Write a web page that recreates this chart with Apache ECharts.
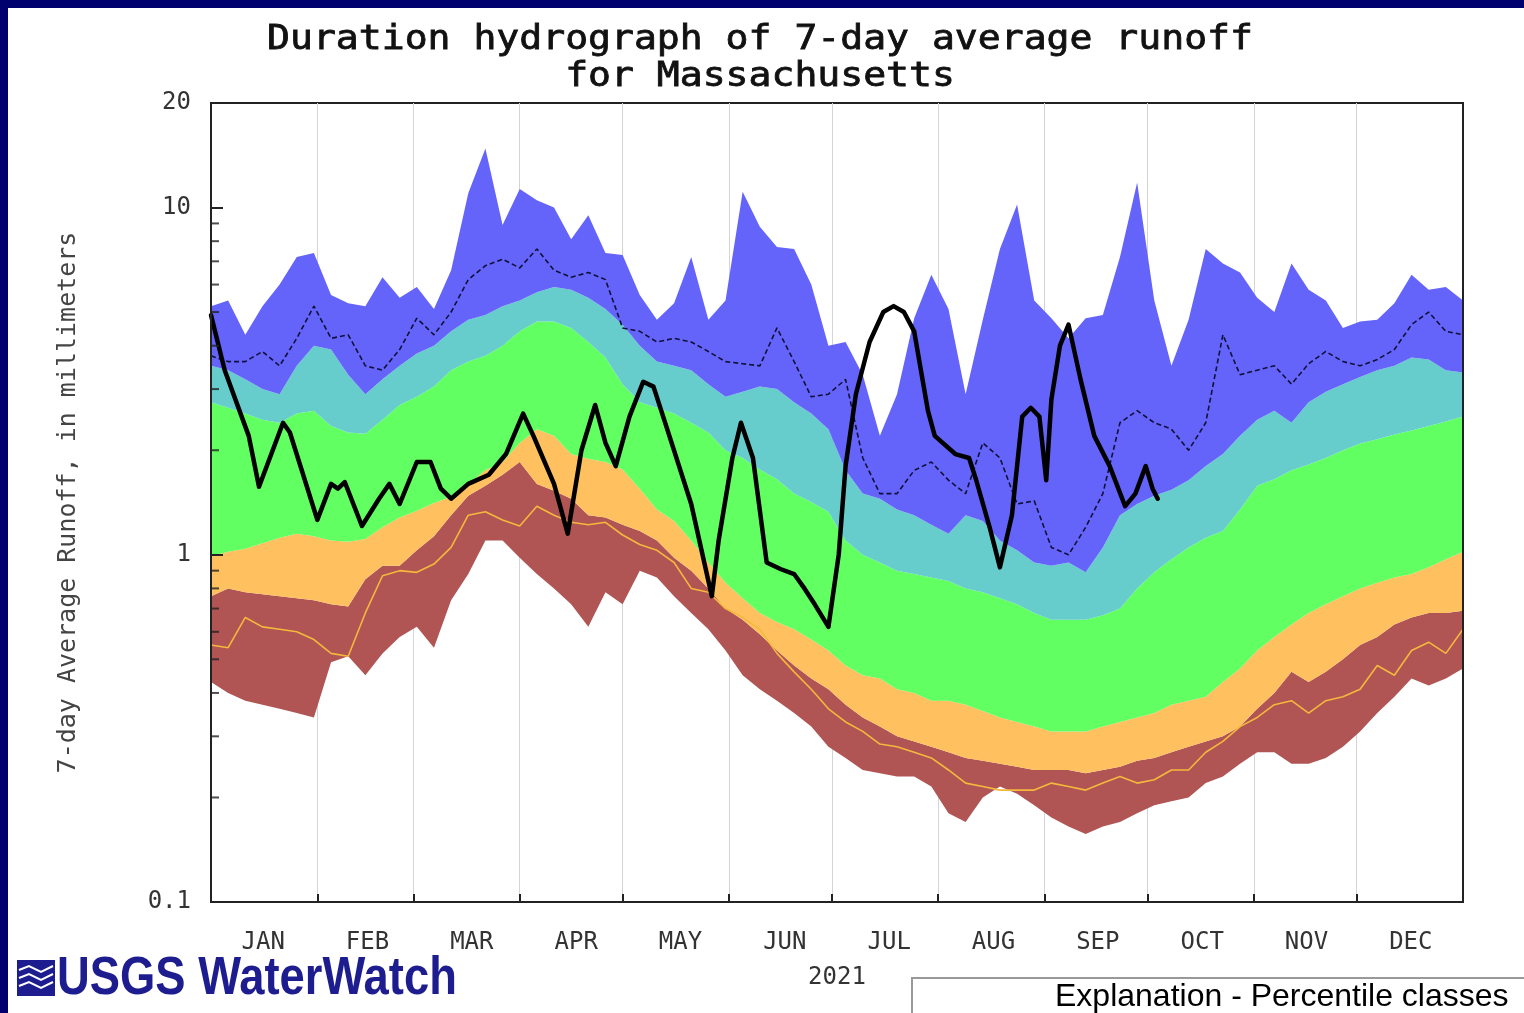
<!DOCTYPE html>
<html>
<head>
<meta charset="utf-8">
<title>Duration hydrograph of 7-day average runoff for Massachusetts</title>
<script src="https://cdn.jsdelivr.net/npm/echarts@6/dist/echarts.min.js"></script>
<style>
  html, body { margin: 0; padding: 0; background: #00006e; overflow: hidden; }
  #chart { position: absolute; left: 8px; top: 8px; width: 1516px; height: 1005px; background: #fff; }
</style>
</head>
<body>
<div id="chart"></div>
<script>
// month labels under the plot
const MONTHS = ['JAN', 'FEB', 'MAR', 'APR', 'MAY', 'JUN', 'JUL', 'AUG', 'SEP', 'OCT', 'NOV', 'DEC']
// y tick values drawn as short inner marks (2..9 of each decade)
const MINOR_TICKS = [0.2, 0.3, 0.4, 0.5, 0.6, 0.7, 0.8, 0.9, 2, 3, 4, 5, 6, 7, 8, 9]

// day of year for the percentile curves (every 5 days)
const DAY = [0, 5, 10, 15, 20, 25, 30, 35, 40, 45,
    50, 55, 60, 65, 70, 75, 80, 85, 90, 95,
    100, 105, 110, 115, 120, 125, 130, 135, 140, 145,
    150, 155, 160, 165, 170, 175, 180, 185, 190, 195,
    200, 205, 210, 215, 220, 225, 230, 235, 240, 245,
    250, 255, 260, 265, 270, 275, 280, 285, 290, 295,
    300, 305, 310, 315, 320, 325, 330, 335, 340, 345,
    350, 355, 360, 365]

// percentile class boundaries, mm
const MAX = [5.2, 5.4, 4.3, 5.2, 6.0, 7.2, 7.4, 5.6, 5.3, 5.2,
    6.3, 5.5, 5.9, 5.1, 6.6, 11.0, 14.8, 8.9, 11.3, 10.5,
    10.0, 8.1, 9.5, 7.4, 7.3, 5.6, 4.75, 5.3, 7.2, 4.75,
    5.4, 11.1, 8.8, 7.7, 7.6, 6.0, 4.0, 4.1, 3.3, 2.2,
    2.9, 4.8, 6.4, 5.1, 2.9, 4.75, 7.6, 10.2, 5.4, 4.8,
    4.2, 4.8, 4.9, 7.2, 11.8, 5.4, 3.5, 4.75, 7.6, 6.9,
    6.5, 5.5, 5.0, 6.9, 5.8, 5.4, 4.5, 4.7, 4.75, 5.3,
    6.4, 5.8, 5.9, 5.4]
const P90 = [3.5, 3.4, 3.2, 3.0, 2.9, 3.5, 4.0, 3.9, 3.3, 2.9,
    3.2, 3.5, 3.8, 4.0, 4.4, 4.75, 4.9, 5.2, 5.4, 5.7,
    5.9, 5.8, 5.5, 5.1, 4.6, 4.0, 3.6, 3.5, 3.4, 3.1,
    2.85, 2.95, 3.05, 3.0, 2.75, 2.55, 2.3, 1.75, 1.5, 1.45,
    1.35, 1.3, 1.22, 1.15, 1.3, 1.25, 1.1, 1.03, 0.95, 0.93,
    0.95, 0.89, 1.05, 1.3, 1.4, 1.48, 1.54, 1.64, 1.8, 1.95,
    2.2, 2.45, 2.6, 2.4, 2.75, 2.95, 3.1, 3.25, 3.4, 3.5,
    3.7, 3.65, 3.4, 3.35]
const P75 = [2.75, 2.65, 2.55, 2.45, 2.4, 2.55, 2.6, 2.35, 2.25, 2.23,
    2.45, 2.7, 2.85, 3.05, 3.4, 3.6, 3.74, 4.0, 4.4, 4.7,
    4.7, 4.5, 4.1, 3.7, 3.1, 2.75, 2.65, 2.55, 2.4, 2.25,
    2.0, 1.9, 1.76, 1.65, 1.5, 1.42, 1.33, 1.1, 1.0, 0.95,
    0.9, 0.88, 0.86, 0.84, 0.8, 0.78, 0.75, 0.72, 0.68, 0.65,
    0.65, 0.65, 0.67, 0.7, 0.8, 0.89, 0.97, 1.05, 1.12, 1.17,
    1.35, 1.58, 1.65, 1.75, 1.82, 1.9, 2.0, 2.09, 2.15, 2.22,
    2.28, 2.35, 2.42, 2.5]
const P25 = [0.99, 1.02, 1.04, 1.08, 1.12, 1.15, 1.13, 1.1, 1.09, 1.11,
    1.2, 1.28, 1.34, 1.41, 1.47, 1.6, 1.75, 1.85, 2.1, 2.3,
    2.2, 1.95, 1.89, 1.85, 1.76, 1.55, 1.35, 1.25, 1.1, 0.95,
    0.83, 0.75, 0.68, 0.64, 0.61, 0.57, 0.53, 0.48, 0.45, 0.44,
    0.41, 0.4, 0.38, 0.38, 0.37, 0.355, 0.34, 0.33, 0.32, 0.31,
    0.31, 0.31, 0.32, 0.33, 0.34, 0.35, 0.37, 0.38, 0.39, 0.43,
    0.47, 0.53, 0.58, 0.63, 0.68, 0.72, 0.76, 0.8, 0.83, 0.86,
    0.88, 0.92, 0.97, 1.02]
const P10 = [0.76, 0.8, 0.78, 0.77, 0.76, 0.75, 0.74, 0.72, 0.71, 0.85,
    0.93, 0.93, 1.03, 1.13, 1.3, 1.48, 1.58, 1.7, 1.85, 1.6,
    1.53, 1.45, 1.3, 1.28, 1.22, 1.17, 1.1, 0.98, 0.9, 0.8,
    0.7, 0.65, 0.59, 0.53, 0.48, 0.44, 0.41, 0.37, 0.34, 0.32,
    0.3, 0.29, 0.28, 0.27, 0.26, 0.255, 0.25, 0.245, 0.24, 0.24,
    0.24, 0.235, 0.24, 0.245, 0.255, 0.26, 0.27, 0.28, 0.29, 0.3,
    0.32, 0.36, 0.4, 0.46, 0.43, 0.46, 0.5, 0.55, 0.58, 0.63,
    0.66, 0.68, 0.68, 0.69]
const MIN = [0.43, 0.4, 0.38, 0.37, 0.36, 0.35, 0.34, 0.49, 0.51, 0.45,
    0.52, 0.58, 0.62, 0.54, 0.74, 0.88, 1.1, 1.1, 0.98, 0.88,
    0.8, 0.72, 0.62, 0.78, 0.72, 0.9, 0.86, 0.76, 0.68, 0.61,
    0.53, 0.45, 0.41, 0.38, 0.35, 0.32, 0.28, 0.26, 0.24, 0.235,
    0.23, 0.23, 0.215, 0.18, 0.17, 0.2, 0.215, 0.205, 0.19, 0.175,
    0.165, 0.157, 0.165, 0.17, 0.18, 0.19, 0.195, 0.2, 0.22, 0.23,
    0.25, 0.27, 0.27, 0.25, 0.25, 0.26, 0.28, 0.31, 0.35, 0.39,
    0.44, 0.42, 0.44, 0.47]
// thin dashed line (upper) and thin gold line (lower)
const DASHED = [3.74, 3.6, 3.6, 3.85, 3.5, 4.2, 5.2, 4.2, 4.3, 3.5,
    3.4, 3.9, 4.8, 4.3, 5.0, 6.2, 6.8, 7.1, 6.7, 7.6,
    6.6, 6.3, 6.5, 6.2, 4.5, 4.4, 4.1, 4.2, 4.1, 3.85,
    3.6, 3.55, 3.5, 4.5, 3.6, 2.85, 2.9, 3.2, 1.9, 1.5,
    1.5, 1.75, 1.85, 1.64, 1.5, 2.1, 1.9, 1.4, 1.43, 1.05,
    1.0, 1.2, 1.5, 2.4, 2.6, 2.4, 2.3, 2.0, 2.4, 4.3,
    3.3, 3.4, 3.5, 3.1, 3.55, 3.85, 3.6, 3.5, 3.65, 3.9,
    4.6, 5.0, 4.4, 4.3]
const GOLD = [0.55, 0.54, 0.66, 0.62, 0.61, 0.6, 0.57, 0.52, 0.51, 0.68,
    0.87, 0.9, 0.89, 0.94, 1.05, 1.3, 1.33, 1.26, 1.21, 1.38,
    1.3, 1.24, 1.22, 1.24, 1.14, 1.07, 1.03, 0.95, 0.8, 0.78,
    0.7, 0.66, 0.61, 0.52, 0.46, 0.41, 0.36, 0.33, 0.31, 0.285,
    0.28, 0.27, 0.26, 0.24, 0.22, 0.215, 0.21, 0.21, 0.21, 0.22,
    0.215, 0.21, 0.22, 0.23, 0.22, 0.225, 0.24, 0.24, 0.27, 0.29,
    0.32, 0.34, 0.37, 0.38, 0.35, 0.38, 0.39, 0.41, 0.48, 0.45,
    0.53, 0.56, 0.52, 0.61]

// 2021 runoff (thick black line), day of year / mm
const CUR_DAY = [0, 4, 11, 14, 21, 23, 31, 35, 37, 39, 44, 49, 52, 55, 60, 64, 67, 70,
    75, 81, 86, 91, 94, 100, 104, 108, 112, 115, 118, 122, 126, 129, 133, 140,
    146, 148, 152, 154.5, 158, 162, 166, 170, 173, 176, 180, 183, 185, 188, 192,
    196, 199, 202, 205, 209, 211, 217, 221, 223, 227, 230, 233.5, 236.5, 239, 241.5,
    243.5, 245, 247.5, 250, 253.5, 257.5, 262, 266.5, 269.5, 272.5, 274.5, 276]
const CUR_VAL = [4.9, 3.4, 2.2, 1.57, 2.4, 2.25, 1.26, 1.6, 1.55, 1.62, 1.21, 1.45, 1.6, 1.4, 1.85, 1.85, 1.55, 1.45,
    1.6, 1.7, 1.95, 2.55, 2.2, 1.6, 1.15, 2.0, 2.7, 2.1, 1.8, 2.5, 3.15, 3.05, 2.3, 1.4,
    0.76, 1.1, 1.9, 2.4, 1.9, 0.95, 0.91, 0.88, 0.8, 0.72, 0.62, 1.0, 1.8, 2.9, 4.1,
    5.0, 5.2, 5.0, 4.4, 2.6, 2.2, 1.95, 1.9, 1.65, 1.2, 0.92, 1.3, 2.5, 2.65, 2.5,
    1.64, 2.8, 4.0, 4.6, 3.2, 2.2, 1.8, 1.38, 1.5, 1.8, 1.55, 1.45]

const chartInstance = echarts.init(document.getElementById('chart'))
const DAY_MS = 86400000
const BASE = new Date(2021, 0, 1).getTime()
const toTime = d => BASE + d * DAY_MS
const pts = arr => DAY.map((d, i) => [toTime(d), arr[i]])
// stacked band thickness between two boundaries
const gap = (hi, lo) => DAY.map((d, i) => [toTime(d), +(hi[i] - lo[i]).toFixed(4)])

const mono = 'DejaVu Sans Mono'
const band = (name, data, color) => ({
    name,
    type: 'line',
    stack: 'pct',
    data,
    symbol: 'none',
    silent: true,
    z: 2,
    lineStyle: { width: 0 },
    areaStyle: { color, opacity: 1 }
})

const option = {
    animation: false,
    backgroundColor: '#ffffff',
    grid: {
        left: 203,
        top: 95,
        width: 1252,
        height: 799,
        show: true,
        borderColor: '#222',
        borderWidth: 2,
        backgroundColor: 'transparent'
    },
    xAxis: [
        {
            type: 'time',
            min: toTime(0),
            max: toTime(365),
            splitNumber: 12,
            minInterval: 28 * DAY_MS,
            axisLine: { show: false },
            axisLabel: { show: false },
            axisTick: { show: true, inside: true, length: 8, lineStyle: { color: '#222', width: 2 } },
            splitLine: { show: true, lineStyle: { color: '#d4d4d4', width: 1 } }
        },
        {
            type: 'category',
            data: MONTHS,
            position: 'bottom',
            boundaryGap: true,
            z: 10,
            axisLine: { show: true, lineStyle: { color: '#222', width: 2 } },
            axisTick: { show: false },
            splitLine: { show: false },
            axisLabel: { fontFamily: mono, fontSize: 24, color: '#333', margin: 29 },
            name: '2021',
            nameLocation: 'middle',
            nameGap: 64,
            nameTextStyle: { fontFamily: mono, fontSize: 24, color: '#333' }
        }
    ],
    yAxis: [
        {
            type: 'log',
            logBase: 10,
            min: 0.1,
            max: 20,
            z: 10,
            axisLine: { show: true, lineStyle: { color: '#222', width: 2 } },
            axisTick: { show: true, inside: true, length: 12, lineStyle: { color: '#222', width: 2 } },
            splitLine: { show: false },
            axisLabel: { fontFamily: mono, fontSize: 24, color: '#333', margin: 20 },
            name: '7-day Average Runoff, in millimeters',
            nameLocation: 'middle',
            nameGap: 130,
            nameTextStyle: { fontFamily: mono, fontSize: 25, color: '#444' }
        },
        {
            type: 'log',
            logBase: 10,
            min: 0.1,
            max: 20,
            position: 'right',
            z: 10,
            axisLine: { show: true, lineStyle: { color: '#222', width: 2 } },
            axisTick: { show: false },
            axisLabel: { show: false },
            splitLine: { show: false }
        }
    ],
    graphic: [
        {
            type: 'text', x: 752, y: 32, scaleX: 1.12,
            style: { text: 'Duration hydrograph of 7-day average runoff', font: '34px "DejaVu Sans Mono"', fill: '#111', stroke: '#111', lineWidth: 0.8, align: 'center', verticalAlign: 'middle' }
        },
        {
            type: 'text', x: 752, y: 69, scaleX: 1.12,
            style: { text: 'for Massachusetts', font: '34px "DejaVu Sans Mono"', fill: '#111', stroke: '#111', lineWidth: 0.8, align: 'center', verticalAlign: 'middle' }
        },
        // USGS logo mark
        {
            type: 'group', x: 9, y: 952,
            children: [
                { type: 'rect', shape: { x: 0, y: 0, width: 38, height: 36 }, style: { fill: '#1d1d8f' } },
                { type: 'polyline', shape: { points: [[2, 10], [12, 6], [24, 12], [36, 6]] }, style: { stroke: '#fff', lineWidth: 2, fill: null } },
                { type: 'polyline', shape: { points: [[2, 18], [12, 14], [24, 20], [36, 14]] }, style: { stroke: '#fff', lineWidth: 2, fill: null } },
                { type: 'polyline', shape: { points: [[2, 26], [12, 22], [24, 28], [36, 22]] }, style: { stroke: '#fff', lineWidth: 2, fill: null } }
            ]
        },
        {
            type: 'text', x: 49, y: 971, scaleX: 0.84,
            style: { text: 'USGS WaterWatch', font: 'bold 54px "Liberation Sans"', fill: '#1d1d8f', align: 'left', verticalAlign: 'middle' }
        },
        // explanation box (cut off by the slide edge)
        {
            type: 'rect', shape: { x: 904, y: 970, width: 700, height: 100 },
            style: { fill: '#fff', stroke: '#999', lineWidth: 2 }
        },
        {
            type: 'text', x: 1047, y: 989,
            style: { text: 'Explanation - Percentile classes', font: '32px "Liberation Sans"', fill: '#000', align: 'left', verticalAlign: 'middle' }
        }
    ],
    series: [
        {
            name: 'min',
            type: 'line',
            stack: 'pct',
            data: pts(MIN),
            symbol: 'none',
            silent: true,
            z: 2,
            lineStyle: { width: 0 }
        },
        band('min-10', gap(P10, MIN), '#b05454'),
        band('10-24', gap(P25, P10), '#ffc060'),
        band('25-75', gap(P75, P25), '#62ff62'),
        band('76-90', gap(P90, P75), '#66cccc'),
        band('90-max', gap(MAX, P90), '#6464fa'),
        {
            name: 'dashed',
            type: 'line',
            data: pts(DASHED),
            symbol: 'none',
            silent: true,
            z: 3,
            lineStyle: { color: '#10103a', width: 1.6, type: [5, 3] }
        },
        {
            name: 'gold',
            type: 'line',
            data: pts(GOLD),
            symbol: 'none',
            silent: true,
            z: 3,
            lineStyle: { color: '#f4b83c', width: 1.6 }
        },
        {
            name: '2021',
            type: 'line',
            data: CUR_DAY.map((d, i) => [toTime(d), CUR_VAL[i]]),
            symbol: 'none',
            silent: true,
            z: 4,
            lineStyle: { color: '#000', width: 4.5, join: 'round', cap: 'round' }
        },
        {
            name: 'minor ticks',
            type: 'scatter',
            data: MINOR_TICKS.map(v => [toTime(0), v]),
            symbol: 'rect',
            symbolSize: [8, 2],
            symbolOffset: [4, 0],
            silent: true,
            z: 6,
            itemStyle: { color: '#222' }
        }
    ]
}
chartInstance.setOption(option)
window.addEventListener('resize', () => chartInstance.resize())
</script>
</body>
</html>
